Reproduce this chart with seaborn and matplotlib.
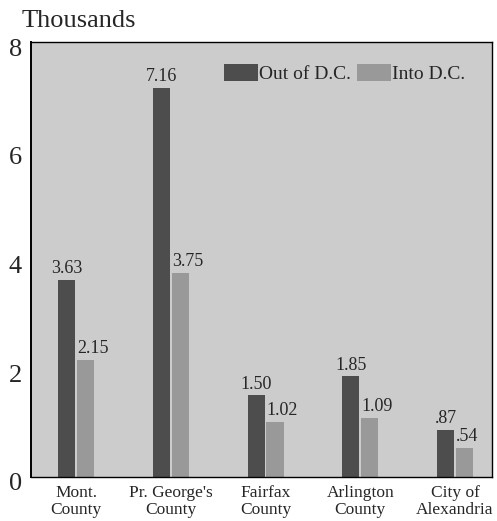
import matplotlib
matplotlib.use("Agg")
import matplotlib.pyplot as plt
import matplotlib.transforms as mtransforms
import seaborn as sns
import pandas as pd

counties = ["Mont.\nCounty", "Pr. George's\nCounty", "Fairfax\nCounty",
            "Arlington\nCounty", "City of\nAlexandria"]
out_of_dc = [3.63, 7.16, 1.50, 1.85, 0.87]
into_dc = [2.15, 3.75, 1.02, 1.09, 0.54]
out_labels = ["3.63", "7.16", "1.50", "1.85", ".87"]
into_labels = ["2.15", "3.75", "1.02", "1.09", ".54"]
series = ["Out of D.C.", "Into D.C."]
y_ticks = [0, 2, 4, 6, 8]

DARK = "#4d4d4d"
LIGHT = "#999999"
BG = "#cccccc"

sns.set_style("white")
plt.rcParams["font.family"] = ["Liberation Serif", "DejaVu Serif"]

df = pd.DataFrame({
    "county": counties * 2,
    "value": out_of_dc + into_dc,
    "series": [series[0]] * len(counties) + [series[1]] * len(counties),
})

fig = plt.figure(figsize=(4.97, 5.21), dpi=100)
ax = fig.add_axes([31 / 497, 1 - 477 / 521, (492 - 31) / 497, (477 - 42) / 521])
ax.set_facecolor(BG)

sns.barplot(data=df, x="county", y="value", hue="series", palette=[DARK, LIGHT],
            width=0.4, gap=0.1, saturation=1, linewidth=0, ax=ax)

ax.set_ylim(0, 8)
ax.set_xlim(-0.475, 4.39)
ax.set_yticks(y_ticks)
ax.set_yticklabels([str(t) for t in y_ticks], fontsize=19)
ax.tick_params(axis="y", direction="in", length=11.5, width=1, color="#555555", pad=6.5)
ax.tick_params(axis="x", length=0, pad=6, labelsize=12.5)
for lbl in ax.get_xticklabels():
    lbl.set_linespacing(1.05)
shift = mtransforms.ScaledTranslation(0, -5 / 100, fig.dpi_scale_trans)
for lbl in ax.get_yticklabels():
    lbl.set_transform(lbl.get_transform() + shift)
ax.set_xlabel("")
ax.set_ylabel("")
for s in ax.spines.values():
    s.set_visible(True)
    s.set_color("black")
    s.set_linewidth(1)
ax.spines["left"].set_linewidth(1.4)

# value labels
c_out, c_in = ax.containers[0], ax.containers[1]
t1 = ax.bar_label(c_out, labels=out_labels, padding=2, fontsize=13)
t2 = ax.bar_label(c_in, labels=into_labels, padding=2, fontsize=13)
for t in t2:
    t.set_ha("left")
    t.xyann = (-6, t.xyann[1])

leg = ax.legend(loc="upper left", bbox_to_anchor=((224 - 31) / 461, (477 - 64) / 435),
                frameon=False, ncol=2, fontsize=14, handlelength=1.75, handleheight=0.93,
                handletextpad=0.05, columnspacing=0.3, borderpad=0, borderaxespad=0)

fig.text(22 / 497, 1 - 27 / 521, "Thousands", fontsize=19, va="baseline", ha="left")

fig.savefig("out.png", dpi=100, facecolor="white")
